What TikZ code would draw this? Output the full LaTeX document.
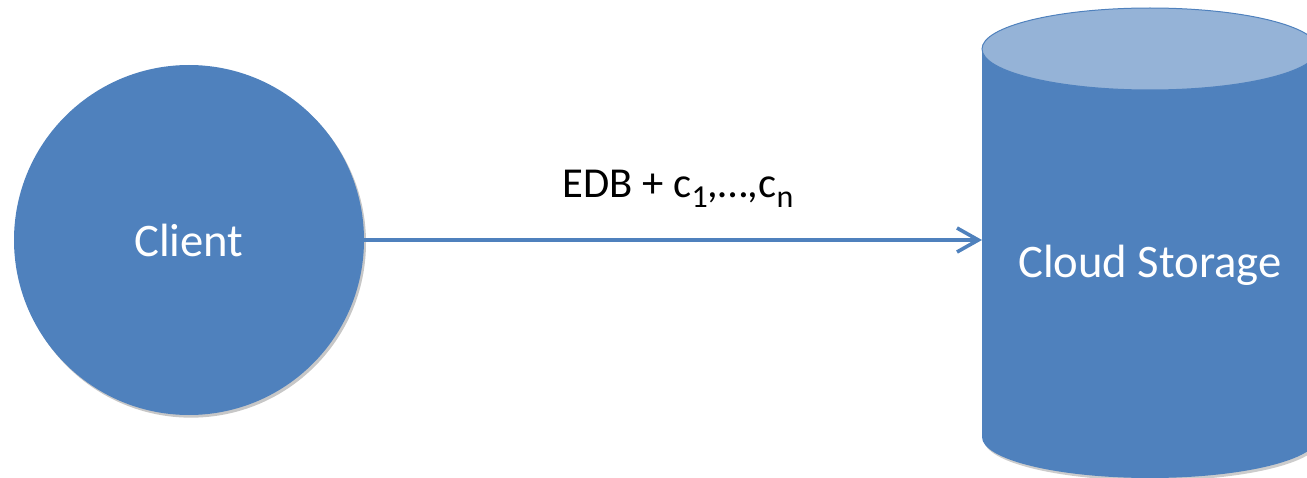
\documentclass[tikz,border=0pt]{standalone}
\usepackage{fontspec}
\setmainfont{Carlito}
\usetikzlibrary{arrows.meta,shadows}
\definecolor{accentblue}{HTML}{4F81BD}
\definecolor{lidblue}{HTML}{95B3D7}
\newcommand{\lowidx}[1]{\raisebox{-8pt}{\fontsize{24}{24}\selectfont #1}}

\begin{document}
\begin{tikzpicture}[x=0.75pt, y=-0.75pt,
    softshadow/.style={drop shadow={shadow xshift=1.5pt, shadow yshift=-2pt, opacity=0.22, fill=black}},
    party/.style={circle, fill=accentblue, minimum size=262.5pt, inner sep=0pt,
        text=white, font=\fontsize{35}{42}\selectfont, softshadow},
    tag/.style={text=white, font=\fontsize{35}{42}\selectfont},
    flow/.style={draw=accentblue, line width=2.7pt, -{Straight Barb[length=16pt, width=18pt]}}]
    \useasboundingbox (0,0) rectangle (1307,478);

    % client
    \node[party] (client) at (189,240) {Client};

    % storage drum (drawn by hand)
    \fill[black, opacity=0.2, shift={(1.5pt,-2pt)}]
        (982,49) -- (982,437) arc (180:360:126pt and 30.75pt) -- (1318,49) -- cycle;
    \fill[accentblue]
        (982,49) -- (982,437) arc (180:360:126pt and 30.75pt) -- (1318,49) -- cycle;
    \filldraw[fill=lidblue, draw=accentblue, line width=0.75pt] (1150,49) ellipse (126pt and 30.75pt);
    \node[tag, anchor=base] (storage) at (1150,277) {Cloud Storage};
    \coordinate (dock) at (982,240);

    % upload
    \draw[flow] (client) -- (dock);
    \node[anchor=base, font=\fontsize{32}{38}\selectfont] (msg) at (678,197)
        {EDB + c\lowidx{1},…,c\lowidx{n}};
\end{tikzpicture}
\end{document}
